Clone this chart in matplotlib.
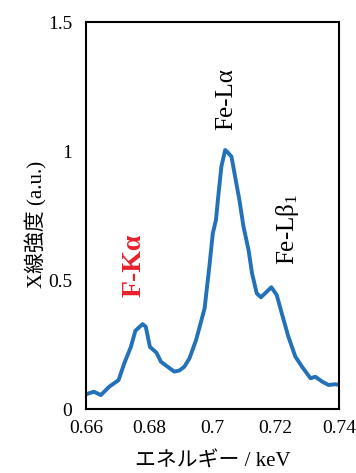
import matplotlib
matplotlib.use("Agg")
import matplotlib.pyplot as plt
import numpy as np

plt.rcParams['font.family'] = ['Liberation Serif', 'Noto Sans CJK JP']
plt.rcParams['mathtext.fontset'] = 'custom'
plt.rcParams['mathtext.rm'] = 'Liberation Serif'
plt.rcParams['mathtext.it'] = 'Liberation Serif:italic'

# spectrum
energy = [0.6600, 0.6625, 0.6647, 0.6673, 0.6703, 0.6721, 0.6742, 0.6756, 0.6779,
          0.6789, 0.6802, 0.6823, 0.6837, 0.6858, 0.6879, 0.6895, 0.6911, 0.6927,
          0.6948, 0.6975, 0.6990, 0.7001, 0.7011, 0.7017, 0.7028, 0.7040, 0.7048,
          0.7060, 0.7085, 0.7098, 0.7114, 0.7125, 0.7140, 0.7153, 0.7172, 0.7186,
          0.7203, 0.7219, 0.7240, 0.7262, 0.7283, 0.7310, 0.7325, 0.7347, 0.7367,
          0.7388, 0.7403]
intensity = [0.057, 0.067, 0.054, 0.086, 0.112, 0.177, 0.241, 0.303, 0.329,
             0.319, 0.241, 0.218, 0.183, 0.164, 0.145, 0.149, 0.164, 0.196,
             0.267, 0.390, 0.552, 0.681, 0.733, 0.810, 0.939, 1.004, 0.995,
             0.978, 0.810, 0.707, 0.616, 0.526, 0.448, 0.433, 0.455, 0.472,
             0.442, 0.371, 0.280, 0.203, 0.164, 0.119, 0.125, 0.106, 0.093,
             0.096, 0.093]

xticks = [0.66, 0.68, 0.70, 0.72, 0.74]
xticklabels = ['0.66', '0.68', '0.7', '0.72', '0.74']
yticks = [0, 0.5, 1.0, 1.5]
yticklabels = ['0', '0.5', '1', '1.5']

fig = plt.figure(figsize=(3.56, 4.73), dpi=100)
ax = fig.add_axes([86/356, 1 - 409/473, 253/356, 387/473])

ax.plot(energy, intensity, color='#2271b9', lw=2.8, solid_joinstyle='round',
        solid_capstyle='round')

ax.set_xlim(0.66, 0.74)
ax.set_ylim(0, 1.5)
ax.set_xticks(xticks)
ax.set_xticklabels(xticklabels)
ax.set_yticks(yticks)
ax.set_yticklabels(yticklabels)
ax.tick_params(length=0, labelsize=14)
ax.tick_params(axis='x', pad=8)
ax.tick_params(axis='y', pad=10)
for s in ax.spines.values():
    s.set_linewidth(1.5)

fig.text(213/356, 1 - 462/473, 'エネルギー / keV', fontsize=15,
         ha='center', va='center')
fig.text(36/356, 1 - 224/473, 'X線強度 (a.u.)', fontsize=15, rotation=90,
         ha='center', va='center')

ax.text(0.6752, 0.434, 'F-Kα', rotation=90, color='#e8202a', fontsize=20,
        fontweight='bold', ha='center', va='bottom')
ax.text(0.7044, 1.081, 'Fe-Lα', rotation=90, color='black', fontsize=18,
        ha='center', va='bottom')
ax.text(0.7238, 0.558, 'Fe-Lβ$_1$', rotation=90, color='black', fontsize=18,
        ha='center', va='bottom')

fig.savefig('out.png', dpi=100)
